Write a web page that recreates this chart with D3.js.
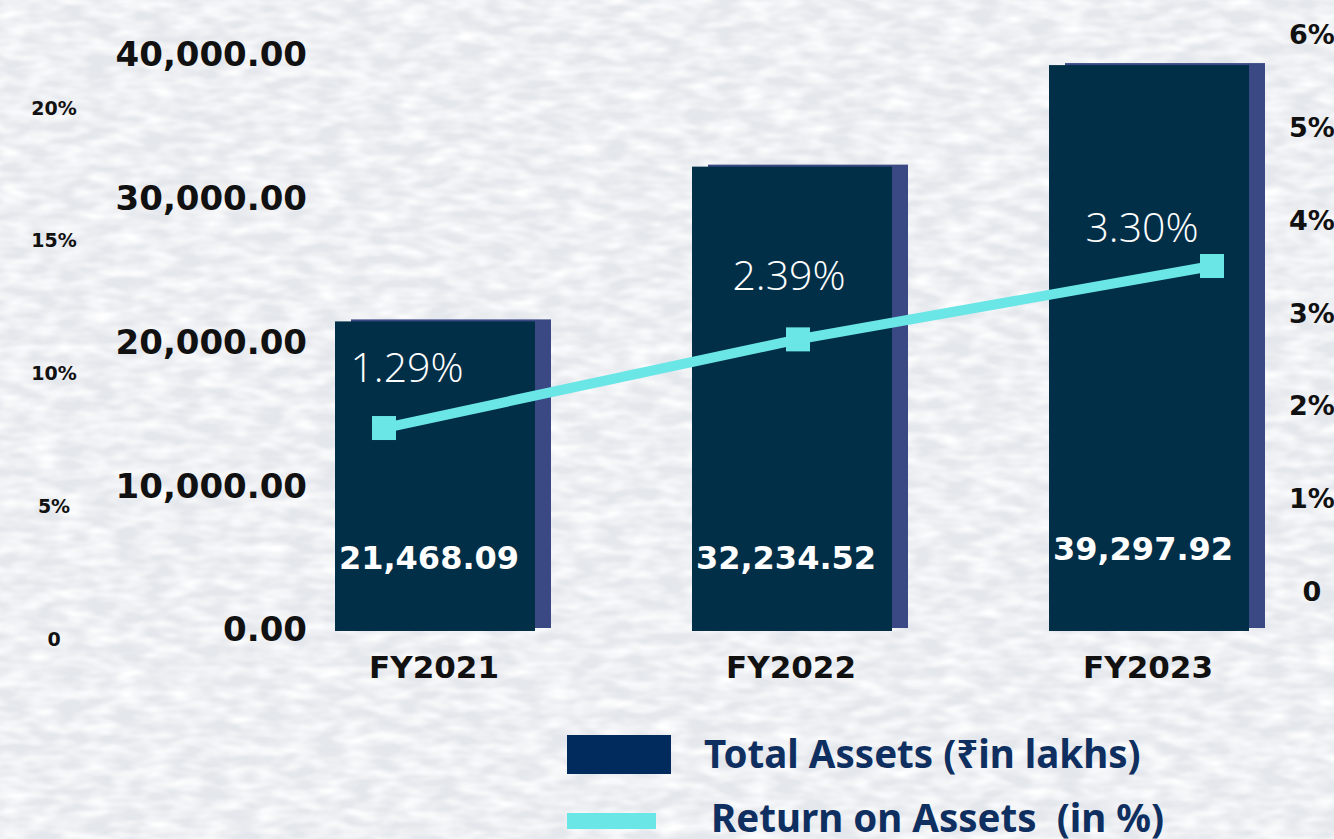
<!DOCTYPE html>
<html>
<head>
<meta charset="utf-8">
<script src="https://cdn.jsdelivr.net/npm/d3@7"></script>
<style>
  html, body { margin: 0; padding: 0; background: #eceef2; }
  svg { display: block; }
</style>
</head>
<body>
<svg id="chart" width="1334" height="839"></svg>
<script>
// ---- data ----
const categories = ["FY2021", "FY2022", "FY2023"];
const totalAssets = [21468.09, 32234.52, 39297.92];
const returnOnAssets = [1.29, 2.39, 3.30];
const leftTicks = [0, 10000, 20000, 30000, 40000];
const rightTicks = [0, 1, 2, 3, 4, 5, 6];
const farLeftTicks = [0, 5, 10, 15, 20];
const legendLabels = ["Total Assets (\u20B9in lakhs)", "Return on Assets  (in %)"];

// ---- layout / style ----
const W = 1334, H = 839;
const barColor = "#022f48", shadowColor = "#3a4884", lineColor = "#6ae6e6";
const legendBarColor = "#012b5d", legendText = "#0e2f5f";
const barW = 200;
const svg = d3.select("#chart");

// background texture
const defs = svg.append("defs");
const f = defs.append("filter").attr("id", "tex").attr("x", 0).attr("y", 0).attr("width", "100%").attr("height", "100%");
f.append("feTurbulence").attr("type", "fractalNoise").attr("baseFrequency", "0.035 0.09").attr("numOctaves", 2).attr("seed", 3).attr("result", "n");
f.append("feColorMatrix").attr("in", "n").attr("type", "matrix")
  .attr("values", "0 0 0 0 1  0 0 0 0 1  0 0 0 0 1  0 0 0 1.8 -0.55");
svg.append("rect").attr("width", W).attr("height", H).attr("fill", "#e4e7ec");
svg.append("rect").attr("width", W).attr("height", H).attr("filter", "url(#tex)");

// scales
const y = d3.scaleLinear().domain([0, 40000]).range([630, 55]);
const x = d3.scalePoint().domain(categories).range([435, 1149]);
const xLine = d3.scalePoint().domain(categories).range([384, 1212]);
const yLine = d3.scaleLinear().domain([0, 4]).range([532, 209.6]);
const yRight = d3.scaleLinear().domain([0, 6]).range([592, 35]);
const yFar = d3.scaleLinear().domain([0, 20]).range([639, 108]);

const numFont = "'DejaVu Sans', sans-serif";

// left axis
const leftAxis = d3.axisLeft(y).tickValues(leftTicks).tickFormat(d3.format(",.2f")).tickSize(0).tickPadding(0);
const gL = svg.append("g").attr("transform", "translate(307,0)").call(leftAxis);
gL.select(".domain").remove();
gL.selectAll("text").attr("font-family", numFont).attr("font-weight", "bold").attr("font-size", 34).attr("fill", "#111");

// far-left axis
const farAxis = d3.axisLeft(yFar).tickValues(farLeftTicks).tickFormat(d => d === 0 ? "0" : d + "%").tickSize(0).tickPadding(0);
const gF = svg.append("g").attr("transform", "translate(54,0)").call(farAxis);
gF.select(".domain").remove();
gF.selectAll("text").attr("text-anchor", "middle").attr("font-family", numFont).attr("font-weight", "bold").attr("font-size", 19).attr("fill", "#111");

// right axis
const rightAxis = d3.axisRight(yRight).tickValues(rightTicks).tickFormat(d => d === 0 ? "0" : d + "%").tickSize(0).tickPadding(0);
const gR = svg.append("g").attr("transform", "translate(1312,0)").call(rightAxis);
gR.select(".domain").remove();
gR.selectAll("text").attr("text-anchor", "middle").attr("font-family", numFont).attr("font-weight", "bold").attr("font-size", 27).attr("fill", "#111");

// shadow bars
svg.append("g").selectAll("rect").data(totalAssets).join("rect")
  .attr("x", (d, i) => x(categories[i]) - barW / 2 + 16)
  .attr("y", d => y(d) - 2)
  .attr("width", barW)
  .attr("height", d => y(0) - y(d))
  .attr("fill", shadowColor);

// bars
svg.append("g").selectAll("rect").data(totalAssets).join("rect")
  .attr("x", (d, i) => x(categories[i]) - barW / 2)
  .attr("y", d => y(d))
  .attr("width", barW)
  .attr("height", d => y(0) - y(d) + 1)
  .attr("fill", barColor);

// bar value labels
const valBase = [569, 569, 560];
svg.append("g").selectAll("text").data(totalAssets).join("text")
  .attr("x", (d, i) => x(categories[i]) - 6)
  .attr("y", (d, i) => valBase[i])
  .attr("text-anchor", "middle")
  .attr("font-family", numFont).attr("font-weight", "bold").attr("font-size", 32)
  .attr("fill", "#fff")
  .text(d => d3.format(",.2f")(d));

// x labels
svg.append("g").selectAll("text").data(categories).join("text")
  .attr("x", d => x(d) - 1)
  .attr("y", 678)
  .attr("text-anchor", "middle")
  .attr("font-family", numFont).attr("font-weight", "bold").attr("font-size", 31)
  .attr("fill", "#111")
  .text(d => d);

// line
const line = d3.line().x((d, i) => xLine(categories[i])).y(d => yLine(d));
svg.append("path").datum(returnOnAssets).attr("d", line)
  .attr("fill", "none").attr("stroke", lineColor).attr("stroke-width", 10);
svg.append("g").selectAll("rect").data(returnOnAssets).join("rect")
  .attr("x", (d, i) => xLine(categories[i]) - 12)
  .attr("y", d => yLine(d) - 12)
  .attr("width", 24).attr("height", 24)
  .attr("fill", lineColor);

// percent labels
const pctDx = [-28, -3, -7];
const pctDy = [-46, -49, -24];
svg.append("g").selectAll("text").data(returnOnAssets).join("text")
  .attr("x", (d, i) => x(categories[i]) + pctDx[i])
  .attr("y", (d, i) => yLine(d) + pctDy[i])
  .attr("text-anchor", "middle")
  .attr("font-family", "'Open Sans', sans-serif").attr("font-weight", 300).attr("font-size", 41)
  .attr("fill", "#fff")
  .text(d => d3.format(".2f")(d) + "%");

// legend
const lg = svg.append("g");
lg.append("rect").attr("x", 567).attr("y", 735).attr("width", 104).attr("height", 39).attr("fill", legendBarColor);
lg.append("rect").attr("x", 567).attr("y", 813).attr("width", 89).attr("height", 16).attr("fill", lineColor);
lg.selectAll("text").data(legendLabels).join("text")
  .attr("x", (d, i) => i === 0 ? 704 : 711)
  .attr("y", (d, i) => i === 0 ? 768 : 832)
  .attr("font-family", "'Noto Sans', sans-serif").attr("font-weight", "bold").attr("font-size", 38.5)
  .attr("fill", legendText)
  .attr("xml:space", "preserve")
  .style("white-space", "pre")
  .text(d => d);
</script>
</body>
</html>
